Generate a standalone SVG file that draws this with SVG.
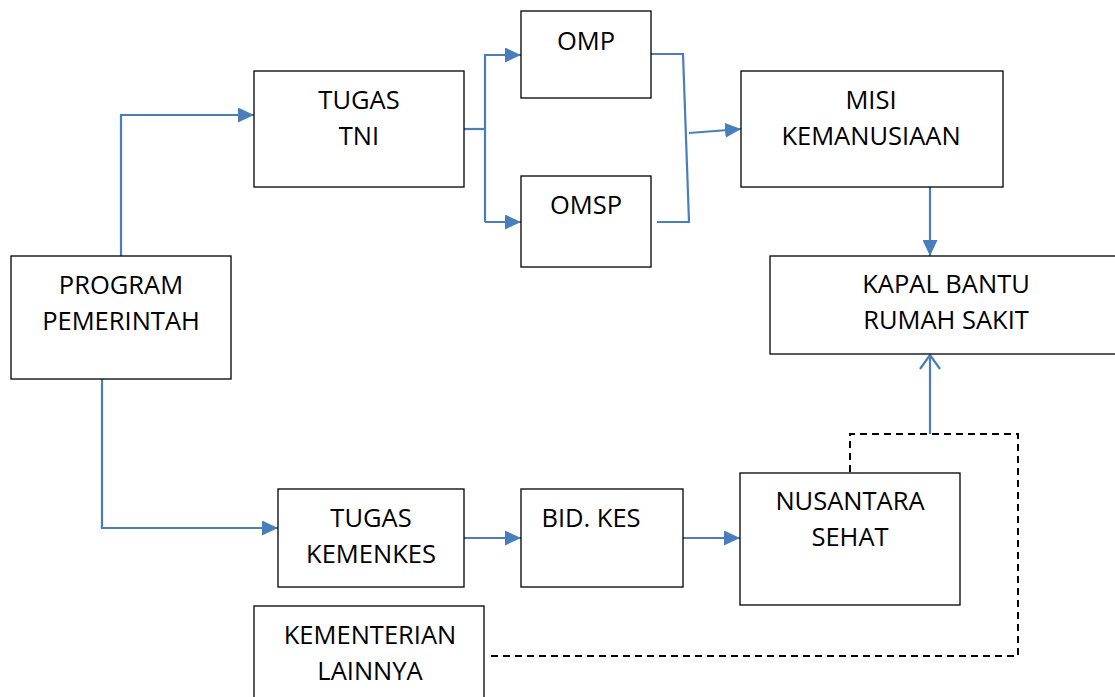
<svg xmlns="http://www.w3.org/2000/svg" width="1115" height="697" viewBox="0 0 1115 697">
<defs>
<style>
.box{fill:#fff;stroke:#000;stroke-width:1.3}
.t{font-family:"Open Sans","Liberation Sans",sans-serif;font-size:25.5px;fill:#000;text-anchor:middle}
.c{fill:none;stroke:#4a7ebb;stroke-width:2.2}
.d{fill:none;stroke:#000;stroke-width:2;stroke-dasharray:7,5}
</style>
<marker id="a" viewBox="0 0 16 15" refX="16" refY="7.5" markerWidth="16" markerHeight="15" markerUnits="userSpaceOnUse" orient="auto"><path d="M0,0 L16,7.5 L0,15 z" fill="#4a7ebb"/></marker>
<marker id="o" viewBox="0 0 16 24" refX="15" refY="12" markerWidth="16" markerHeight="24" markerUnits="userSpaceOnUse" orient="auto"><path d="M1,2 L15,12 L1,22" fill="none" stroke="#4a7ebb" stroke-width="2.2"/></marker>
</defs>
<rect width="1115" height="697" fill="#fff"/>
<g id="connectors">
<path class="c" d="M121,256 V115 H254" marker-end="url(#a)"/>
<path class="c" d="M102,379 V528 H278" marker-end="url(#a)"/>
<path class="c" d="M464,129 H485"/>
<path class="c" d="M485,222 V55 H521" marker-end="url(#a)"/>
<path class="c" d="M485,222 H521" marker-end="url(#a)"/>
<path class="c" d="M651,54 H683 L689,222 H657"/>
<path class="c" d="M689,133 L741,129" marker-end="url(#a)"/>
<path class="c" d="M930,187 V256" marker-end="url(#a)"/>
<path class="c" d="M930,434 V355" marker-end="url(#o)"/>
<path class="c" d="M464,538 H521" marker-end="url(#a)"/>
<path class="c" d="M683,538 H740" marker-end="url(#a)"/>
<path class="d" d="M850,472 V434 H1018 V656 H487"/>
</g>
<g id="program"><rect class="box" x="11" y="256" width="220" height="123"/><text class="t" x="121" y="294">PROGRAM</text><text class="t" x="121" y="330">PEMERINTAH</text></g>
<g id="tugas-tni"><rect class="box" x="254" y="71" width="210" height="116"/><text class="t" x="359" y="109">TUGAS</text><text class="t" x="359" y="145">TNI</text></g>
<g id="omp"><rect class="box" x="521" y="11" width="130" height="87"/><text class="t" x="586" y="50">OMP</text></g>
<g id="omsp"><rect class="box" x="521" y="176" width="130" height="91"/><text class="t" x="586" y="214">OMSP</text></g>
<g id="misi"><rect class="box" x="741" y="71" width="262" height="116"/><text class="t" x="871" y="109">MISI</text><text class="t" x="871" y="145">KEMANUSIAAN</text></g>
<g id="kapal"><rect class="box" x="770" y="256" width="350" height="98"/><text class="t" x="946" y="293">KAPAL BANTU</text><text class="t" x="946" y="329">RUMAH SAKIT</text></g>
<g id="kemenkes"><rect class="box" x="278" y="489" width="186" height="98"/><text class="t" x="371" y="527">TUGAS</text><text class="t" x="371" y="563">KEMENKES</text></g>
<g id="bidkes"><rect class="box" x="521" y="489" width="162" height="98"/><text class="t" x="591" y="527">BID. KES</text></g>
<g id="nusantara"><rect class="box" x="740" y="473" width="220" height="132"/><text class="t" x="850" y="510">NUSANTARA</text><text class="t" x="850" y="546">SEHAT</text></g>
<g id="kementerian"><rect class="box" x="254" y="606" width="230" height="100"/><text class="t" x="370" y="644">KEMENTERIAN</text><text class="t" x="370" y="680">LAINNYA</text></g>
</svg>
